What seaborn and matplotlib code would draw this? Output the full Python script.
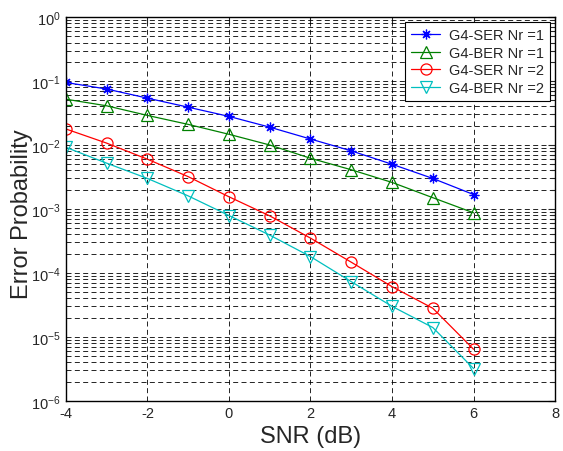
import matplotlib
matplotlib.use("Agg")
import matplotlib.pyplot as plt
import seaborn as sns
import numpy as np
from matplotlib.ticker import LogLocator, NullFormatter, MultipleLocator

sns.set_style("white")
plt.rcParams["font.family"] = ["Liberation Sans", "DejaVu Sans"]
plt.rcParams["mathtext.default"] = "regular"
plt.rcParams["axes.unicode_minus"] = False

snr = [-4, -3, -2, -1, 0, 1, 2, 3, 4, 5, 6]

ser_nr1 = [0.095, 0.075, 0.054, 0.039, 0.028, 0.019, 0.0124, 0.0081, 0.0050, 0.0030, 0.00168]
ber_nr1 = [0.052, 0.041, 0.029, 0.021, 0.0147, 0.010, 0.0062, 0.0041, 0.0026, 0.0015, 0.00087]
ser_nr2 = [0.0178, 0.0107, 0.0060, 0.0032, 0.00155, 0.00078, 0.00035, 0.000147, 6.1e-5, 2.8e-5, 6.4e-6]
ber_nr2 = [0.0092, 0.0052, 0.0030, 0.0016, 0.00079, 0.00039, 0.00018, 7.3e-5, 3.0e-5, 1.4e-5, 3.2e-6]

labels = ["G4-SER Nr =1", "G4-BER Nr =1", "G4-SER Nr =2", "G4-BER Nr =2"]

series = [ser_nr1, ber_nr1, ser_nr2, ber_nr2]
colors = ["#0000ff", "#008000", "#ff0000", "#00bfbf"]
markers = [(8, 2, 0), "^", "o", "v"]
msizes = [7, 8, 8, 8]

fig = plt.figure(figsize=(5.63, 4.52), dpi=100)
ax = fig.add_axes([0.117, 0.111, 0.869, 0.849])

for vals, lab, c, m, ms in zip(series, labels, colors, markers, msizes):
    sns.lineplot(x=snr, y=vals, ax=ax, color=c, marker=m, markersize=ms,
                 markerfacecolor="none", markeredgecolor=c, markeredgewidth=0.9,
                 linewidth=0.9, label=lab)

ax.set_yscale("log")
ax.set_xlim(-4, 8)
ax.set_ylim(1e-6, 1)
ax.xaxis.set_major_locator(MultipleLocator(2))
ax.yaxis.set_major_locator(LogLocator(base=10, numticks=10))
ax.yaxis.set_minor_locator(LogLocator(base=10, subs=np.arange(2, 10), numticks=10))
ax.yaxis.set_minor_formatter(NullFormatter())

ax.grid(True, which="major", axis="both", color="black", linestyle=(0, (6, 4)), linewidth=0.6)
ax.grid(True, which="minor", axis="y", color="black", linestyle=(0, (6, 4)), linewidth=0.6)
ax.set_axisbelow(True)

ax.tick_params(which="both", direction="in", top=True, right=True, labelsize=10.5, width=0.8)
ax.tick_params(which="major", length=5)
ax.tick_params(which="minor", length=3)
for s in ax.spines.values():
    s.set_color("black")
    s.set_linewidth(1.0)

ax.set_xlabel("SNR (dB)", fontsize=17, labelpad=4)
ax.set_ylabel("Error Probability", fontsize=17)
ax.yaxis.set_label_coords(-0.067, 0.49)

leg = ax.legend(loc="upper right", fontsize=10.5, frameon=True, fancybox=False,
                edgecolor="black", framealpha=1, borderaxespad=0.35,
                handlelength=2.0, handletextpad=0.6, labelspacing=0.25)
leg.get_frame().set_linewidth(0.8)

fig.savefig("out.png", dpi=100)
